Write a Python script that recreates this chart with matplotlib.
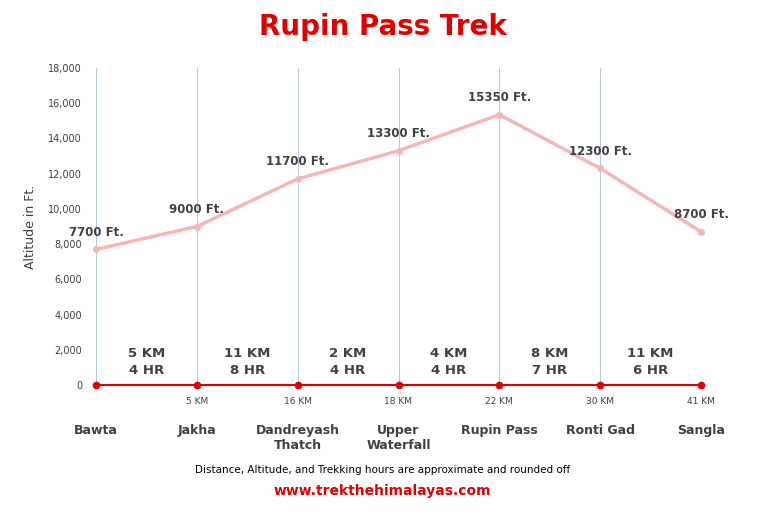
import matplotlib.pyplot as plt

places = ['Bawta', 'Jakha', 'Dandreyash\nThatch', 'Upper\nWaterfall', 'Rupin Pass', 'Ronti Gad', 'Sangla']
altitude = [7700, 9000, 11700, 13300, 15350, 12300, 8700]
cum_km = ['', '5 KM', '16 KM', '18 KM', '22 KM', '30 KM', '41 KM']
seg_km = ['5 KM', '11 KM', '2 KM', '4 KM', '8 KM', '11 KM']
seg_hr = ['4 HR', '8 HR', '4 HR', '4 HR', '7 HR', '6 HR']

fig = plt.figure(figsize=(7.65, 5.12), dpi=100)
ax = fig.add_axes([96 / 765, 1 - 385 / 512, 605 / 765, 317 / 512])
x = list(range(len(places)))

for xi in x:
    ax.axvline(xi, ymin=0, ymax=1, color='#b4c7e7', lw=0.7, zorder=0)
ax.plot(x, altitude, color='#f4b6b6', lw=2.5, marker='o', ms=4, zorder=3, clip_on=False)
ax.plot(x, [0] * len(x), color='#e00000', lw=1.5, marker='o', ms=4.5, zorder=3, clip_on=False)

for xi, a in zip(x, altitude):
    ax.text(xi, a + 600, f'{a} Ft.', ha='center', va='bottom', fontsize=8.5,
            fontweight='bold', color='#404040')
for i, (k, h) in enumerate(zip(seg_km, seg_hr)):
    ax.text(i + 0.5, 1800, k, ha='center', va='center', fontsize=9.5, fontweight='bold', color='#404040')
    ax.text(i + 0.5, 800, h, ha='center', va='center', fontsize=9.5, fontweight='bold', color='#404040')
for xi, k in zip(x, cum_km):
    ax.text(xi, -950, k, ha='center', va='center', fontsize=6.5, color='#404040')
for xi, p in zip(x, places):
    ax.text(xi, -2200, p, ha='center', va='top', fontsize=9, fontweight='bold', color='#404040')

ax.set_xlim(0, 6)
ax.set_ylim(0, 18000)
ax.set_yticks(range(0, 18001, 2000))
ax.set_yticklabels([f'{v:,}' for v in range(0, 18001, 2000)], fontsize=7, color='#404040')
ax.set_xticks([])
ax.tick_params(axis='y', length=0, pad=10)
for s in ax.spines.values():
    s.set_visible(False)
ax.set_ylabel('Altitude in Ft.', fontsize=9, color='#404040', labelpad=8)
ax.patch.set_alpha(0)

fig.text(0.5, 1 - 27 / 512, 'Rupin Pass Trek', ha='center', va='center', fontsize=20,
         fontweight='bold', color='#e00000')
fig.text(0.5, 1 - 470 / 512, 'Distance, Altitude, and Trekking hours are approximate and rounded off',
         ha='center', va='center', fontsize=7.5, color='black')
fig.text(0.5, 1 - 491 / 512, 'www.trekthehimalayas.com', ha='center', va='center', fontsize=10,
         fontweight='bold', color='#e00000')
fig.savefig('out.png', dpi=100)
